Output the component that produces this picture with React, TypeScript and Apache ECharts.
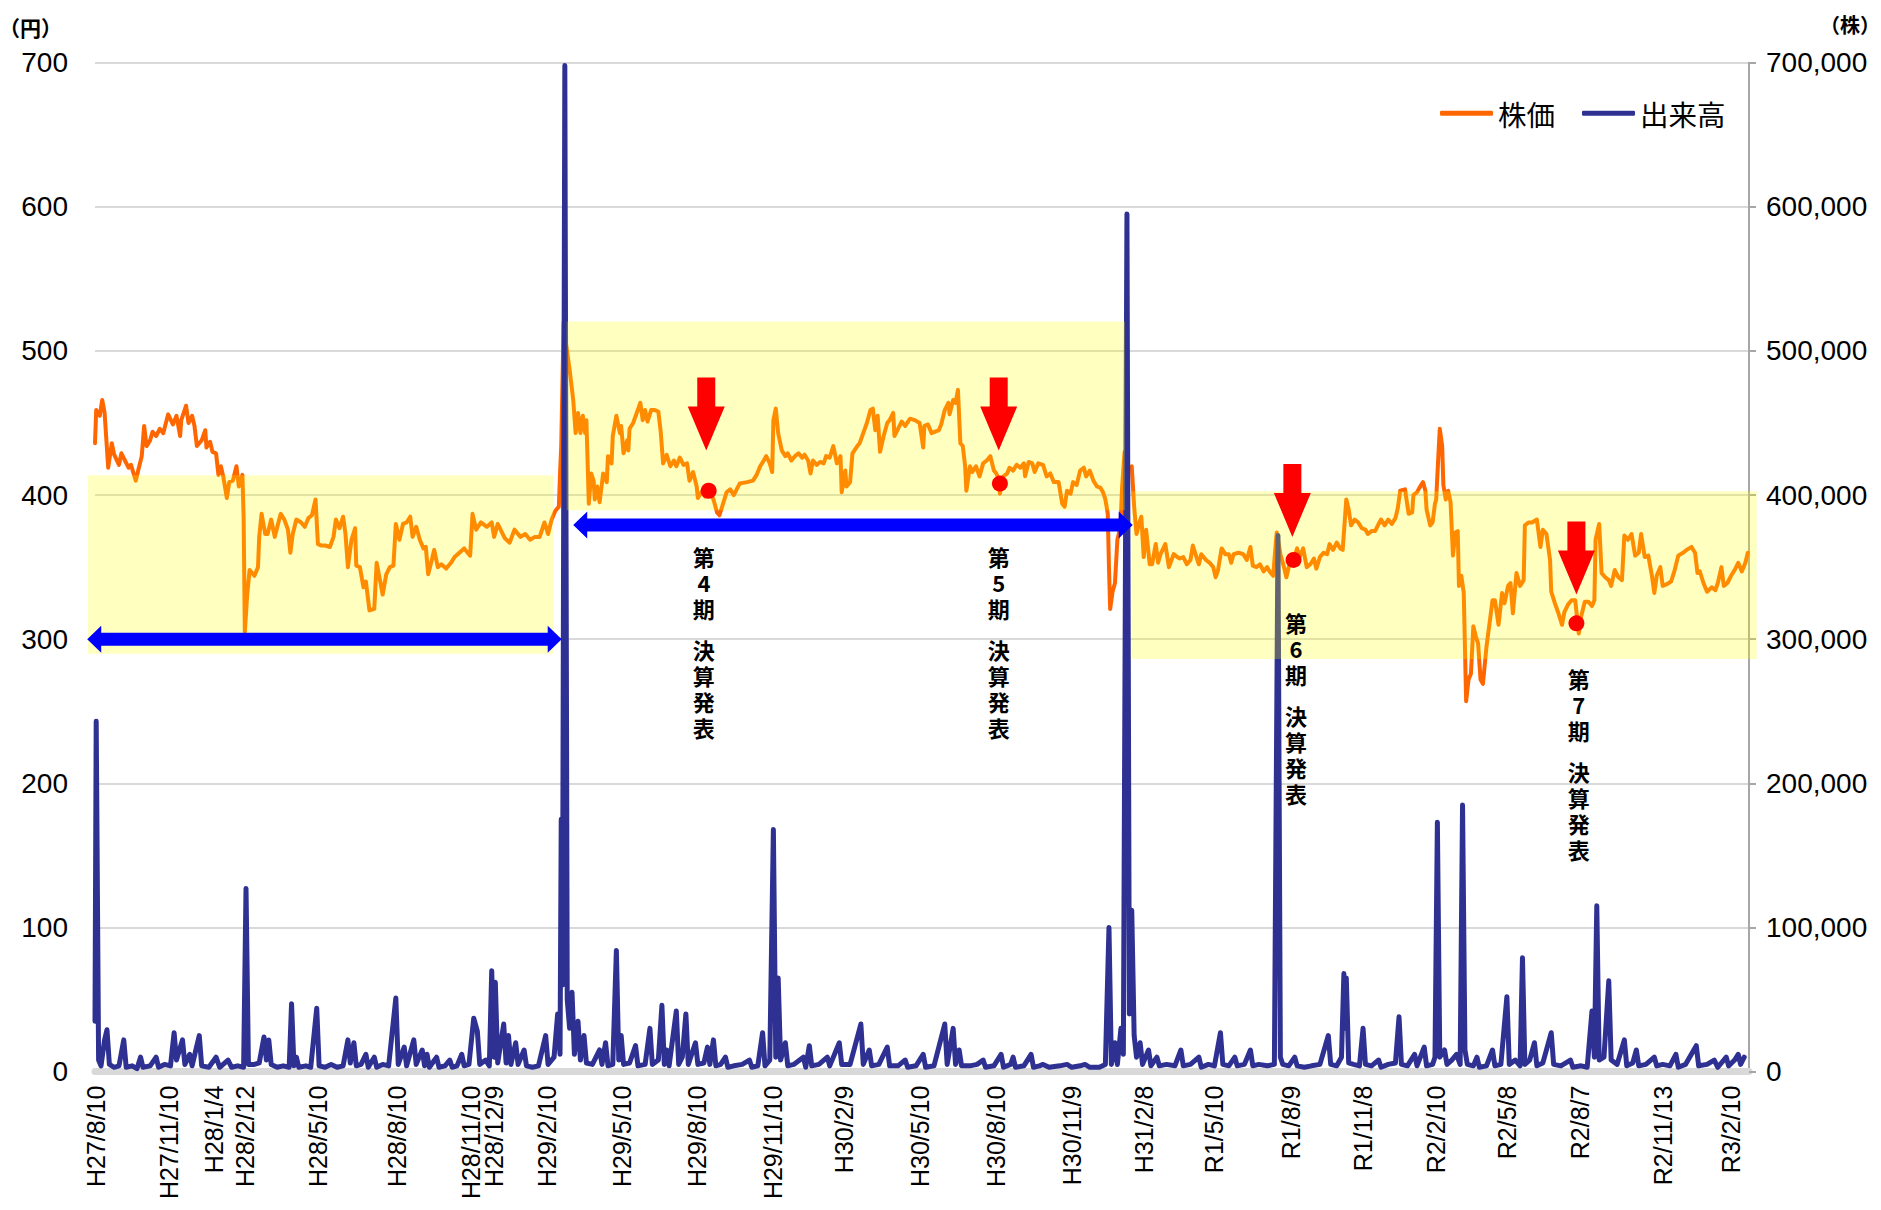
import React, { useEffect, useRef } from 'react';
import * as echarts from 'echarts';

// x-axis: trading-day index; tick labels at these days
const tickLabels = ['H27/8/10','H27/11/10','H28/1/4','H28/2/12','H28/5/10','H28/8/10','H28/11/10','H28/12/9','H29/2/10','H29/5/10','H29/8/10','H29/11/10','H30/2/9','H30/5/10','H30/8/10','H30/11/9','H31/2/8','R1/5/10','R1/8/9','R1/11/8','R2/2/10','R2/5/8','R2/8/7','R2/11/13','R3/2/10'];
const tickDays = [1,62,99,125,186,252,314,333,377,440,502,566,625,688,752,815,875,934,998,1058,1119,1178,1239,1308,1365];

// 株価 (円): [trading day, price]
const priceH27H28: [number, number][] = [[0,436],[1,459],[4,455],[6,466],[8,457],[11,419],[14,436],[16,428],[20,421],[22,429],[25,424],[28,419],[30,421],[34,410],[36,417],[39,427],[41,448],[43,434],[46,438],[48,444],[51,441],[54,446],[57,443],[61,456],[65,449],[68,455],[71,441],[72,452],[76,462],[78,450],[81,455],[83,448],[85,434],[89,438],[92,445],[93,433],[96,437],[98,430],[101,429],[103,414],[105,420],[107,413],[110,398],[112,409],[115,410],[118,420],[120,406],[123,414],[124,385],[125,305],[127,331],[129,348],[133,344],[136,350],[137,371],[139,387],[142,373],[144,373],[147,383],[150,371],[153,381],[155,387],[158,383],[161,376],[163,360],[165,373],[168,383],[172,381],[175,378],[178,384],[181,386],[184,397],[186,366],[189,365],[192,365],[196,364],[199,371],[201,383],[204,377],[207,385],[209,373],[211,350],[214,369],[217,377],[218,351],[221,350],[224,336],[226,340],[229,320],[233,321],[235,353],[238,340],[240,331],[243,345],[246,350],[249,351],[251,380],[254,369],[257,380],[260,381],[263,385],[265,371],[268,378],[271,369],[274,363],[276,364],[278,345],[281,355],[283,362],[286,350],[289,352],[293,349],[297,353],[300,357],[304,360],[308,363],[313,358],[315,387],[318,376],[322,381],[327,378],[331,381],[333,371],[336,380],[342,370]];
const priceH29H30: [number, number][] = [[346,367],[350,376],[355,371],[359,373],[363,369],[367,371],[371,371],[375,381],[378,373],[381,383],[384,389],[387,392],[388,415],[389,434],[391,520],[393,505],[396,487],[399,466],[401,443],[403,457],[405,443],[407,455],[409,443],[410,452],[412,394],[414,415],[416,410],[417,397],[419,406],[421,395],[424,415],[427,409],[428,427],[431,422],[432,441],[435,455],[438,443],[439,448],[441,429],[444,438],[445,431],[446,446],[449,450],[452,457],[455,464],[457,452],[459,459],[461,451],[464,459],[467,459],[470,458],[472,444],[474,422],[477,428],[480,420],[483,424],[485,420],[488,426],[491,421],[494,422],[496,410],[499,416],[502,406],[503,398],[506,402],[509,399],[512,405],[516,397],[519,388],[521,386],[524,394],[527,402],[530,404],[533,400],[536,405],[538,408],[544,409],[549,410],[552,414],[555,420],[558,424],[560,427],[563,422],[565,416],[566,452],[568,460],[570,443],[573,431],[576,427],[578,429],[581,424],[584,427],[587,429],[590,426],[592,428],[595,424],[597,415],[599,424],[602,421],[605,423],[608,422],[610,427],[613,426],[616,434],[619,422],[622,427],[623,402],[626,417],[627,406],[630,409],[632,429],[636,434],[638,436],[641,443],[644,450],[647,459],[649,460],[651,445],[653,455],[655,430],[658,441],[661,450],[663,452],[666,457],[667,441],[670,446],[673,451],[676,448],[680,453],[684,452],[688,450]];
const priceH30R1: [number, number][] = [[691,433],[692,448],[695,449],[698,443],[701,444],[704,445],[706,449],[709,459],[712,464],[713,456],[716,466],[718,464],[720,473],[722,436],[724,434],[726,420],[727,403],[730,420],[732,416],[735,420],[738,413],[741,422],[744,424],[747,427],[750,417],[752,415],[753,413],[755,401],[758,413],[761,415],[763,419],[766,417],[769,421],[772,419],[775,422],[776,413],[779,423],[782,422],[784,416],[787,422],[791,421],[794,413],[797,415],[800,409],[804,409],[807,394],[809,392],[811,403],[814,401],[816,409],[819,407],[822,417],[825,419],[827,413],[830,417],[833,410],[836,406],[839,405],[841,402],[843,397],[845,387],[846,350],[847,321],[849,333],[851,339],[853,369],[855,376],[856,387],[857,406],[859,430],[862,418],[865,420],[867,392],[869,373],[871,380],[873,385],[875,357],[877,376],[880,352],[882,352],[885,366],[887,353],[889,359],[893,366],[896,350],[900,359],[903,357],[905,356],[908,357],[911,352],[914,355],[916,365],[919,357],[921,352],[923,359],[927,355],[930,353],[933,350],[935,343],[937,348],[940,363],[943,359],[946,359],[948,353],[950,359],[954,360],[958,359],[961,355],[964,364],[966,351],[969,350],[972,352],[975,347],[978,350],[980,347],[983,344],[985,365],[986,374],[989,359],[992,350],[994,343],[996,350],[1000,355],[1003,363],[1005,357],[1008,363],[1011,350],[1014,352],[1017,356],[1019,349],[1022,357],[1025,360],[1028,359],[1030,366]];
const priceR1R3: [number, number][] = [[1033,362],[1036,367],[1039,363],[1041,362],[1044,397],[1046,390],[1048,379],[1051,383],[1054,381],[1057,377],[1060,376],[1062,373],[1065,375],[1068,375],[1071,380],[1073,383],[1076,379],[1079,383],[1082,380],[1085,384],[1087,391],[1089,403],[1093,404],[1096,387],[1099,388],[1100,400],[1103,402],[1105,405],[1108,409],[1110,403],[1111,390],[1114,379],[1116,381],[1118,394],[1119,397],[1121,430],[1122,446],[1124,434],[1125,407],[1127,397],[1129,403],[1131,395],[1133,358],[1135,374],[1137,375],[1138,337],[1140,344],[1142,332],[1144,257],[1146,272],[1148,276],[1150,309],[1152,302],[1154,297],[1156,272],[1158,269],[1161,295],[1164,314],[1166,327],[1168,327],[1171,310],[1174,332],[1176,325],[1179,337],[1181,339],[1183,318],[1186,346],[1189,337],[1192,341],[1193,379],[1196,381],[1199,381],[1203,383],[1206,364],[1208,376],[1211,373],[1214,355],[1215,333],[1218,325],[1221,318],[1224,310],[1226,319],[1229,324],[1232,327],[1235,327],[1238,304],[1240,316],[1243,326],[1246,326],[1249,323],[1251,327],[1252,369],[1255,380],[1257,346],[1260,343],[1263,341],[1265,337],[1268,348],[1271,343],[1274,341],[1276,372],[1279,369],[1282,373],[1285,358],[1288,360],[1290,373],[1293,357],[1296,358],[1299,344],[1301,332],[1303,344],[1306,350],[1308,337],[1311,338],[1315,340],[1318,348],[1321,358],[1325,360],[1328,362],[1332,364],[1335,360],[1337,346],[1339,347],[1342,339],[1345,333],[1349,336],[1352,334],[1354,339],[1357,350],[1359,337],[1362,339],[1365,344],[1368,348],[1371,353],[1374,347],[1377,353],[1379,360]];

// 出来高 (株): [trading day, volume]
const volumeH27H29: [number, number][] = [[0,35000],[1,243000],[3,8000],[5,4000],[8,22000],[10,29000],[12,5000],[16,3000],[20,4000],[24,22000],[26,3000],[31,4000],[35,2000],[38,10000],[40,3000],[46,4000],[51,10000],[53,3000],[58,5000],[63,4000],[66,27000],[68,8000],[73,22000],[75,5000],[79,12000],[81,4000],[87,25000],[89,4000],[95,3000],[101,10000],[104,3000],[111,8000],[114,3000],[119,4000],[124,3000],[126,127000],[128,5000],[133,5000],[137,6000],[141,24000],[143,8000],[145,22000],[147,5000],[152,3000],[157,4000],[162,3000],[164,47000],[166,4000],[168,10000],[170,3000],[176,4000],[180,3000],[185,44000],[187,4000],[192,3000],[197,5000],[202,3000],[207,4000],[211,22000],[213,6000],[216,20000],[218,4000],[222,5000],[226,12000],[228,3000],[233,10000],[235,3000],[240,5000],[245,4000],[251,51000],[253,5000],[258,17000],[260,4000],[266,22000],[268,5000],[273,15000],[275,4000],[277,12000],[279,3000],[285,10000],[287,3000],[292,4000],[296,8000],[298,3000],[302,4000],[306,12000],[308,4000],[312,5000],[316,37000],[319,28000],[321,5000],[326,8000],[329,4000],[331,70000],[333,10000],[334,62000],[336,6000],[341,33000],[343,6000],[345,25000],[347,5000],[351,20000],[353,5000],[358,15000],[360,4000],[365,3000],[370,4000],[376,25000],[378,5000],[383,10000],[386,40000],[388,12000],[389,175000],[390,60000],[392,698000],[394,50000],[396,30000],[398,55000],[400,12000],[403,35000],[405,8000],[408,25000],[410,6000],[415,5000]];
const volumeH29H31: [number, number][] = [[421,15000],[423,5000],[426,20000],[428,4000],[432,5000],[435,84000],[437,8000],[439,25000],[441,5000],[446,6000],[451,18000],[453,4000],[459,5000],[463,30000],[465,5000],[470,8000],[473,46000],[475,5000],[477,15000],[479,4000],[485,42000],[487,5000],[490,10000],[493,40000],[495,5000],[501,20000],[503,5000],[508,6000],[511,17000],[513,5000],[516,22000],[518,4000],[522,5000],[526,10000],[528,3000],[533,4000],[540,5000],[546,8000],[548,3000],[553,4000],[557,27000],[559,4000],[563,8000],[566,168000],[568,10000],[570,65000],[572,8000],[576,20000],[578,4000],[583,5000],[591,10000],[593,3000],[596,18000],[598,4000],[604,5000],[611,10000],[613,4000],[621,20000],[623,5000],[630,5000],[639,33000],[641,5000],[646,15000],[648,4000],[654,5000],[661,17000],[663,4000],[670,4000],[676,8000],[678,3000],[685,4000],[691,12000],[693,3000],[700,4000],[709,33000],[711,5000],[716,30000],[718,5000],[721,15000],[723,4000],[730,4000],[736,5000],[741,8000],[743,3000],[750,4000],[756,12000],[758,3000],[764,5000],[766,10000],[768,3000],[775,4000],[781,12000],[783,3000],[788,4000],[791,5000],[796,3000],[805,4000],[811,5000],[815,3000],[822,4000],[826,5000],[830,3000],[838,3000],[843,5000],[846,100000],[848,5000],[851,20000],[853,5000],[856,30000],[858,12000],[861,595000],[863,40000],[865,112000],[867,25000],[869,10000]];
const volumeR1R3: [number, number][] = [[872,20000],[874,5000],[879,15000],[881,4000],[886,10000],[888,4000],[894,5000],[901,4000],[906,15000],[908,4000],[914,5000],[921,10000],[923,3000],[929,5000],[934,4000],[939,27000],[941,5000],[946,4000],[951,10000],[953,4000],[959,5000],[964,15000],[966,4000],[971,5000],[978,4000],[984,5000],[987,372000],[989,10000],[991,5000],[996,4000],[1001,10000],[1003,4000],[1009,3000],[1015,4000],[1022,5000],[1029,25000],[1031,5000],[1036,4000],[1040,10000],[1042,68000],[1043,30000],[1044,65000],[1046,6000],[1050,5000],[1055,4000],[1058,30000],[1060,5000],[1065,4000],[1071,8000],[1073,3000],[1079,5000],[1085,6000],[1088,38000],[1090,5000],[1095,4000],[1101,12000],[1103,4000],[1109,17000],[1111,4000],[1116,5000],[1118,10000],[1120,173000],[1122,10000],[1126,15000],[1128,5000],[1132,8000],[1136,12000],[1139,5000],[1141,185000],[1143,15000],[1145,5000],[1150,4000],[1153,10000],[1155,3000],[1161,4000],[1166,15000],[1168,4000],[1173,5000],[1178,52000],[1180,5000],[1185,8000],[1189,4000],[1191,79000],[1193,5000],[1197,8000],[1201,20000],[1203,4000],[1208,6000],[1215,27000],[1217,5000],[1223,4000],[1231,8000],[1233,3000],[1240,4000],[1245,3000],[1249,42000],[1251,10000],[1253,115000],[1255,8000],[1259,10000],[1263,63000],[1265,8000],[1270,5000],[1276,22000],[1278,4000],[1283,6000],[1286,15000],[1288,4000],[1294,5000],[1301,10000],[1303,4000],[1308,5000],[1314,4000],[1319,12000],[1321,3000],[1327,5000],[1336,18000],[1338,4000],[1345,5000],[1351,8000],[1354,3000],[1361,10000],[1363,4000],[1368,8000],[1371,12000],[1373,5000],[1376,10000]];

// 決算発表 markers
const earningsTerms = ['4', '5', '6', '7'];
const earningsDotDays = [512, 755, 1000, 1236];
const earningsDotPrices = [403, 408, 355, 311];
const earningsArrowDays = [510, 754, 999, 1236];
const earningsArrowTipPrices = [431, 431, 371, 331];
const earningsNoteDays = [508, 754, 1002, 1238];
const earningsNoteTopPrices = [367, 367, 321, 282];

// highlighted price bands
const bandStartDays = [-6, 393.5, 865];
const bandEndDays = [382.4, 859.4, 1386.4];
const bandLowPrices = [290, 389.5, 286.3];
const bandHighPrices = [413.8, 520.5, 402.7];

// blue range arrows
const spanStartDays = [-6.5, 399];
const spanEndDays = [389.4, 865.8];
const spanPrices = [300, 379.2];

const LATIN = '"Liberation Sans", Arial, sans-serif';
const CJK = '"Noto Sans CJK JP", sans-serif';

export default function App() {
  const ref = useRef<HTMLDivElement>(null);
  useEffect(() => {
    if (!ref.current) return;
    const chart = echarts.init(ref.current, null, { renderer: 'svg' });
    const labelMap = new Map<number, string>();
    tickDays.forEach((d, i) => labelMap.set(d, tickLabels[i]));
    const priceData = [...priceH27H28, ...priceH29H30, ...priceH30R1, ...priceR1R3];
    const volumeData = [...volumeH27H29, ...volumeH29H31, ...volumeR1R3];

    chart.setOption({
      animation: false,
      grid: { left: 95, right: 132, top: 62.7, bottom: 138.4, containLabel: false },
      legend: {
        data: [{ name: '株価', icon: 'roundRect' }, { name: '出来高', icon: 'roundRect' }],
        left: 1440, top: 99, padding: 0,
        itemWidth: 53, itemHeight: 5, itemGap: 27,
        textStyle: { fontSize: 28.5, color: '#000', fontFamily: CJK },
      },
      xAxis: {
        type: 'value', min: 0, max: 1380,
        axisLine: { show: true, onZero: false, lineStyle: { color: '#D9D9D9', width: 7 } },
        axisTick: { show: false },
        splitLine: { show: false },
        axisLabel: {
          customValues: tickDays,
          rotate: 90, margin: 14, fontSize: 25, color: '#000', fontFamily: LATIN,
          formatter: (v: number) => labelMap.get(v) ?? '',
        },
      },
      yAxis: [
        {
          type: 'value', min: 0, max: 700, interval: 100,
          axisLine: { show: false }, axisTick: { show: false },
          splitLine: { show: true, lineStyle: { color: '#D9D9D9', width: 2 } },
          axisLabel: { margin: 27, fontSize: 28, color: '#000', fontFamily: LATIN },
        },
        {
          type: 'value', min: 0, max: 700000, interval: 100000, position: 'right',
          axisLine: { show: true, lineStyle: { color: '#A6A6A6', width: 2 } },
          axisTick: { show: true, length: 7, lineStyle: { color: '#A6A6A6', width: 2 } },
          splitLine: { show: false },
          axisLabel: {
            margin: 17, fontSize: 28, color: '#000', fontFamily: LATIN,
            formatter: (v: number) => v.toLocaleString('en-US'),
          },
        },
      ],
      series: [
        {
          name: '株価', type: 'line', yAxisIndex: 0, data: priceData,
          symbol: 'none', z: 2,
          itemStyle: { color: '#FF6600' },
          lineStyle: { color: '#FF6600', width: 4, join: 'round', cap: 'round' },
        },
        {
          name: '出来高', type: 'line', yAxisIndex: 1, data: volumeData,
          symbol: 'none', z: 3,
          itemStyle: { color: '#2E3192' },
          lineStyle: { color: '#2E3192', width: 5, join: 'round', cap: 'round' },
        },
        {
          name: '決算発表', type: 'scatter', yAxisIndex: 0, z: 8,
          data: earningsDotDays.map((d, i) => [d, earningsDotPrices[i]]),
          symbol: 'circle', symbolSize: 16,
          itemStyle: { color: '#FF0000', opacity: 1 },
        },
      ],
    });

    const toPx = (x: number, y: number) =>
      chart.convertToPixel({ xAxisIndex: 0, yAxisIndex: 0 }, [x, y]) as number[];

    const elements: any[] = [];
    bandStartDays.forEach((s, i) => {
      const a = toPx(s, bandHighPrices[i]);
      const b = toPx(bandEndDays[i], bandLowPrices[i]);
      elements.push({
        type: 'rect', z: 5, silent: true,
        shape: { x: a[0], y: a[1], width: b[0] - a[0], height: b[1] - a[1] },
        style: { fill: 'rgba(255,255,0,0.25)' },
      });
    });
    spanStartDays.forEach((s, i) => {
      const a = toPx(s, spanPrices[i]);
      const b = toPx(spanEndDays[i], spanPrices[i]);
      const yc = a[1], xl = a[0], xr = b[0];
      const hl = 14, hb = 6.5, hh = 13.5;
      elements.push({
        type: 'polygon', z: 6, silent: true,
        shape: {
          points: [[xl, yc], [xl + hl, yc - hh], [xl + hl, yc - hb], [xr - hl, yc - hb], [xr - hl, yc - hh],
            [xr, yc], [xr - hl, yc + hh], [xr - hl, yc + hb], [xl + hl, yc + hb], [xl + hl, yc + hh]],
        },
        style: { fill: '#0000FF' },
      });
    });
    earningsArrowDays.forEach((d, i) => {
      const p = toPx(d, earningsArrowTipPrices[i]);
      const cx = p[0], ty = p[1];
      elements.push({
        type: 'polygon', z: 7, silent: true,
        shape: {
          points: [[cx - 9, ty - 73], [cx + 9, ty - 73], [cx + 9, ty - 44], [cx + 18.5, ty - 44],
            [cx, ty], [cx - 18.5, ty - 44], [cx - 9, ty - 44]],
        },
        style: { fill: '#FF0000' },
      });
    });
    earningsNoteDays.forEach((d, i) => {
      const p = toPx(d, earningsNoteTopPrices[i]);
      elements.push({
        type: 'text', z: 9, silent: true,
        x: p[0], y: p[1],
        style: {
          text: `{a|第}\n{a|${earningsTerms[i]}}\n{a|期}\n{s| }\n{a|決}\n{a|算}\n{a|発}\n{a|表}`,
          align: 'center', verticalAlign: 'top',
          fill: '#000',
          rich: {
            a: { fontSize: 22, fontWeight: 'bold', fontFamily: CJK, lineHeight: 26, fill: '#000', align: 'center' },
            s: { fontSize: 8, lineHeight: 15, fill: '#000', align: 'center' },
          },
        },
      });
    });
    elements.push({
      type: 'text', z: 9, silent: true, x: -1, y: 27,
      style: { text: '（円）', font: `bold 21px ${CJK}`, fill: '#000', align: 'left', verticalAlign: 'middle' },
    });
    elements.push({
      type: 'text', z: 9, silent: true, x: 1880, y: 24,
      style: { text: '（株）', font: `bold 20px ${CJK}`, fill: '#000', align: 'right', verticalAlign: 'middle' },
    });

    chart.setOption({ graphic: { elements } });

    return () => chart.dispose();
  }, []);

  return (
    <div
      ref={ref}
      style={{ position: 'absolute', left: 0, top: 0, width: 1881, height: 1210, background: '#fff' }}
    />
  );
}
